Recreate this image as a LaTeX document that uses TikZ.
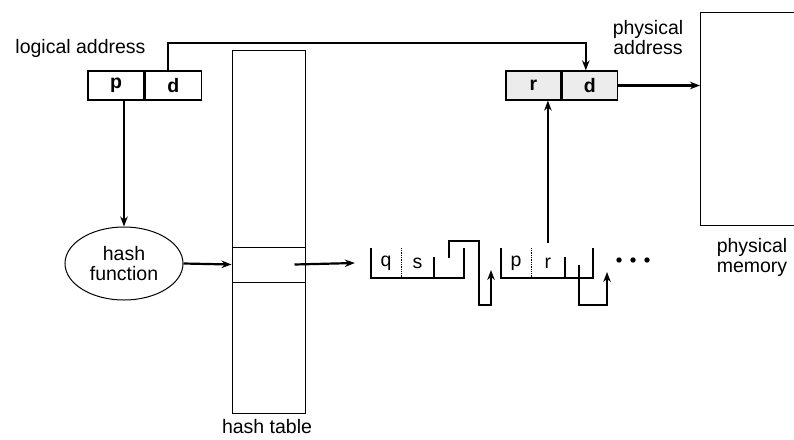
\documentclass[tikz,border=0pt]{standalone}
\usepackage{fontspec}
\setmainfont{Liberation Sans}
\usetikzlibrary{arrows.meta,shapes.geometric,positioning}

\begin{document}
\begin{tikzpicture}[
    x=1pt, y=-1pt,
    >={Stealth[length=10pt,width=7.5pt]},
    every node/.style={font=\fontsize{19.5}{20}\selectfont},
    txt/.style={align=center, inner sep=0pt},
    addrbox/.style={rectangle, draw, line width=1.3pt, minimum height=29pt, inner sep=0pt, font=\fontsize{19.5}{20}\selectfont\bfseries},
    tabbox/.style={rectangle, draw, line width=1pt, minimum width=73pt, inner sep=0pt},
    cell/.style={rectangle, minimum height=30pt, inner sep=0pt},
    arrow/.style={->, line width=2.2pt},
    link/.style={line width=2.2pt},
]
\path[use as bounding box, clip] (0,0) rectangle (794,439);

% addresses
\node[txt] (laddr) at (80.5,48) {logical address};
\node[addrbox, minimum width=56pt] (lp) at (116,85.5) {p};
\node[addrbox, minimum width=56pt, right=0pt of lp] (ld) {d};
\node[addrbox, fill=gray!15, minimum width=55pt] (pr) at (533.5,85.5) {r};
\node[addrbox, fill=gray!15, minimum width=55pt, right=0pt of pr] (pd) {d};
\node[txt] (paddr) at (648,38) {physical\\address};

% memory
\node[rectangle, draw, line width=1.3pt, minimum width=130pt, minimum height=213pt, anchor=north west] (mem) at (700,12) {};
\node[txt] (memlbl) at (752,257) {physical\\memory};

% hash function and table
\node[ellipse, draw, line width=1pt, minimum width=118pt, minimum height=73pt, inner sep=0pt, align=center] (hash) at (124,263.5) {hash\\function};
\node[tabbox, minimum height=363pt, anchor=north west] (htab) at (232,50) {};
\node[tabbox, minimum height=35pt] (hentry) at (268.5,264.5) {};
\node[txt] (htlbl) at (267,427) {hash table};

% chain
\node[cell, minimum width=30pt] (q) at (386,263) {q};
\node[cell, minimum width=32pt, right=0pt of q] (s) {s};
\node[cell, minimum width=30pt, right=0pt of s] (qn) {};
\node[cell, minimum width=30pt] (p) at (516,263) {p};
\node[cell, minimum width=33pt, right=0pt of p] (r) {r};
\node[cell, minimum width=28pt, right=0pt of r] (rn) {};
\coordinate (qend) at (491,270);
\coordinate (rend) at (607,272);

\draw[link] (q.north west) |- (qn.south east) -- (qn.north east);
\draw[densely dotted, line width=1.3pt] (q.north east) -- (q.south east);
\draw[link] ([yshift=-9pt]s.north east) -- (s.south east);
\draw[link] (p.north west) |- (rn.south east) -- (rn.north east);
\draw[densely dotted, line width=1.3pt] (p.north east) -- (p.south east);
\draw[link] ([yshift=-9pt]r.north east) -- (r.south east);
\draw[arrow] ([yshift=5pt]qn.center) -- ++(0,-17) -| ++(30,64) -| (qend);
\draw[arrow] ([yshift=-2pt]rn.center) -- ++(0,40) -| (rend);
\foreach \i in {0,1,2}
    \fill ([xshift=26pt+14pt*\i, yshift=3pt]rn.east) circle (2.7pt);

% arrows
\draw[arrow] ([xshift=-5pt]ld.north) |- ([xshift=-4pt,yshift=27pt]pd.north) -- ([xshift=-4pt]pd.north);
\draw[arrow] (lp.south -| hash.north) -- (hash.north);
\draw[arrow] (hash.east) -- (hentry.west);
\draw[arrow] ([xshift=-11pt]hentry.east) -- ([xshift=-16pt]q.west);
\draw[arrow] ([yshift=5pt]r.north) -- (r.north |- pr.south);
\draw[arrow] (pd.east) -- (pd.east -| mem.west);
\end{tikzpicture}
\end{document}
